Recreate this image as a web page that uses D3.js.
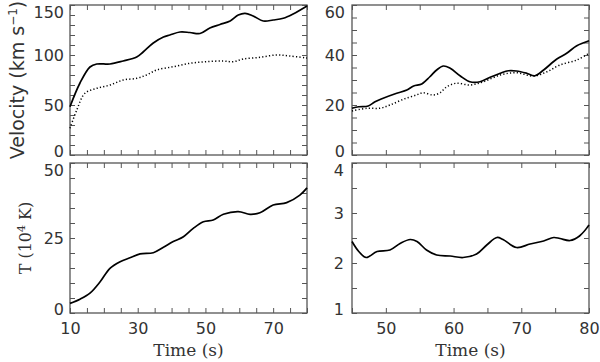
<!DOCTYPE html>
<html>
<head>
<meta charset="utf-8">
<script src="https://cdn.jsdelivr.net/npm/d3@7"></script>
<style>
  body { margin: 0; background: #fff; }
  svg { display: block; }
  .tick text { font-family: "DejaVu Sans", sans-serif; font-size: 16px; fill: #333; }
  .domain { display: none; }
  .tick line { stroke: #555; stroke-width: 1; }
  .frame { fill: none; stroke: #555; stroke-width: 1.3; }
  .curve { fill: none; stroke: #000; stroke-width: 1.7; }
  .dots { fill: none; stroke: #000; stroke-width: 1.5; stroke-dasharray: 1.2 2.2; }
  .title-sans { font-family: "DejaVu Sans", sans-serif; font-size: 19px; fill: #333; }
  .title-serif { font-family: "DejaVu Serif", serif; font-size: 16px; fill: #333; }
</style>
</head>
<body>
<div id="chart"></div>
<script>
// velocity, early phase (10-80 s)
var tVelA = [10, 12.95, 15.9, 17.9, 21.8, 25.7, 29.7, 31.6, 34.6, 37.6, 39.5, 42.5, 45.4, 48.4, 51.3, 54.3, 57.3, 59.7, 61.7, 64.1, 67.1, 70, 73, 75.9, 80]
var velA = [48.3, 72, 88, 91, 91, 94, 98, 103, 112, 118, 120, 123, 122.5, 121.5, 127, 130.5, 134, 140, 141.7, 139, 134, 135, 136.7, 141, 149]
var tVelAdot = [10, 12, 14.4, 17.9, 21.8, 25.7, 29.7, 32.6, 35.6, 40.5, 45.4, 50.3, 55.2, 58.2, 61.2, 66.1, 71, 74.9, 80]
var velAdot = [26.7, 45, 61.7, 66.7, 70, 75, 76.7, 80, 85, 88.3, 91.7, 93.3, 94, 93.3, 96, 97.7, 100, 99, 97]

// velocity, late phase (45-80 s)
var tVelB = [45, 46, 47.4, 48.4, 49.6, 51.6, 53.1, 54.1, 55.3, 56.5, 57.5, 58.5, 59.5, 61, 62.4, 63.9, 65.4, 66.9, 68.1, 69.3, 70.8, 72, 73.3, 75.2, 76.7, 78.2, 80]
var velB = [18.7, 19.3, 19.6, 21.3, 22.7, 24.7, 26, 27.6, 28.4, 31.3, 34, 35.6, 34.7, 31.6, 29.3, 29.3, 31.1, 32.7, 33.7, 33.6, 32.7, 31.7, 34, 38.3, 40.7, 43.7, 45.7]
var tVelBdot = [45, 47.2, 49.1, 50.6, 52.6, 54.5, 55.5, 57, 58, 59, 60.4, 62.4, 64.4, 66.9, 69.3, 71.8, 73.8, 75.7, 78.2, 80]
var velBdot = [17.6, 18.7, 18.7, 20, 22.3, 24, 24.9, 24, 24.9, 27.3, 28.7, 28, 29.3, 32, 32.9, 31.6, 33.3, 36, 38, 40.7]

// temperature (1e4 K)
var tTempA = [10, 12.95, 15.9, 18.9, 21.8, 24.8, 27.7, 30.7, 34.6, 37.6, 40.5, 43.5, 46.4, 49.4, 52.3, 55.3, 59.7, 63.2, 66.1, 70, 74, 77.9, 80]
var tempA = [3.2, 4.6, 6.6, 10.4, 14.9, 17.1, 18.4, 19.7, 20.1, 21.9, 23.8, 25.4, 28.2, 30.4, 31, 32.9, 33.8, 32.9, 33.4, 36, 36.8, 39.3, 41.7]
var tTempB = [45, 46, 47.1, 48.7, 50.6, 52.1, 53.6, 54.6, 56, 57.5, 59.5, 61.4, 63.4, 64.9, 66.4, 67.3, 69.3, 71.3, 73.3, 74.8, 75.7, 77.2, 78.6, 80]
var tempB = [2.43, 2.23, 2.11, 2.23, 2.26, 2.39, 2.47, 2.43, 2.26, 2.16, 2.14, 2.11, 2.18, 2.36, 2.51, 2.47, 2.31, 2.38, 2.44, 2.51, 2.49, 2.45, 2.54, 2.76]

var xTicksA = [10, 30, 50, 70]
var xTicksB = [50, 60, 70, 80]
var yTicksVelA = [0, 50, 100, 150]
var yTicksVelB = [0, 20, 40, 60]
var yTicksTempA = [0, 25, 50]
var yTicksTempB = [1, 2, 3, 4]

var width = 600
var height = 362

var svg = d3.select('#chart')
  .append('svg')
  .attr('width', width)
  .attr('height', height)

var colA = [70, 307]
var colB = [352, 589]
var rowTop = [5, 155]
var rowBot = [163, 313]

function pairs(xs, ys) {
  return xs.map(function(x, i) { return [x, ys[i]] })
}

function range(a, b, step) {
  var out = []
  for (var v = a; v <= b + 1e-9; v += step) out.push(+v.toFixed(6))
  return out
}

function panel(opt) {
  var x = d3.scaleLinear().domain(opt.xDomain).range(opt.col)
  var y = d3.scaleLinear().domain(opt.yDomain).range([opt.row[1], opt.row[0]])
  var g = svg.append('g')
  var w = opt.col[1] - opt.col[0]
  var h = opt.row[1] - opt.row[0]

  var xMinor = range(opt.xDomain[0], opt.xDomain[1], opt.xStep)
  var yMinor = range(opt.yDomain[0], opt.yDomain[1], opt.yStep)

  // ticks point inward on all four sides
  g.append('g')
    .attr('transform', 'translate(0,' + opt.row[1] + ')')
    .call(d3.axisBottom(x).tickValues(xMinor).tickSize(-5).tickFormat(''))
  g.append('g')
    .attr('transform', 'translate(0,' + opt.row[0] + ')')
    .call(d3.axisTop(x).tickValues(xMinor).tickSize(-5).tickFormat(''))
  g.append('g')
    .attr('transform', 'translate(' + opt.col[0] + ',0)')
    .call(d3.axisLeft(y).tickValues(yMinor).tickSize(-5).tickFormat(''))
  g.append('g')
    .attr('transform', 'translate(' + opt.col[1] + ',0)')
    .call(d3.axisRight(y).tickValues(yMinor).tickSize(-5).tickFormat(''))

  // labels; the end labels are pulled inside the frame
  var lo = opt.yDomain[0]
  var hi = opt.yDomain[1]
  g.append('g')
    .attr('transform', 'translate(' + opt.col[0] + ',0)')
    .call(d3.axisLeft(y).tickValues(opt.yLabels).tickSize(0).tickPadding(opt.yPad).tickFormat(d3.format('d')))
    .selectAll('text')
    .attr('dy', '0.36em')
    .attr('y', function(d) { return d === hi ? 7 : d === lo ? -4 : 0 })
  if (opt.xLabels) {
    g.append('g')
      .attr('transform', 'translate(0,' + opt.row[1] + ')')
      .call(d3.axisBottom(x).tickValues(opt.xLabels).tickSize(0).tickPadding(10).tickFormat(d3.format('d')))
  }

  g.append('rect')
    .attr('class', 'frame')
    .attr('x', opt.col[0])
    .attr('y', opt.row[0])
    .attr('width', w)
    .attr('height', h)

  var line = d3.line()
    .x(function(d) { return x(d[0]) })
    .y(function(d) { return y(d[1]) })
    .curve(d3.curveCatmullRom.alpha(0.5))

  opt.series.forEach(function(s) {
    g.append('path')
      .datum(pairs(s.t, s.v))
      .attr('class', s.dotted ? 'dots' : 'curve')
      .attr('d', line)
  })
}

panel({
  xDomain: [10, 80], yDomain: [0, 150], col: colA, row: rowTop,
  xStep: 5, yStep: 10, yLabels: yTicksVelA, yPad: 6,
  series: [{t: tVelA, v: velA}, {t: tVelAdot, v: velAdot, dotted: true}]
})
panel({
  xDomain: [45, 80], yDomain: [0, 60], col: colB, row: rowTop,
  xStep: 5, yStep: 5, yLabels: yTicksVelB, yPad: 7,
  series: [{t: tVelB, v: velB}, {t: tVelBdot, v: velBdot, dotted: true}]
})
panel({
  xDomain: [10, 80], yDomain: [0, 50], col: colA, row: rowBot,
  xStep: 5, yStep: 5, yLabels: yTicksTempA, yPad: 6, xLabels: xTicksA,
  series: [{t: tTempA, v: tempA}]
})
panel({
  xDomain: [45, 80], yDomain: [1, 4], col: colB, row: rowBot,
  xStep: 5, yStep: 0.5, yLabels: yTicksTempB, yPad: 8, xLabels: xTicksB,
  series: [{t: tTempB, v: tempB}]
})

// axis titles
var vLabel = svg.append('text')
  .attr('class', 'title-sans')
  .attr('transform', 'translate(24,80) rotate(-90)')
  .attr('text-anchor', 'middle')
vLabel.append('tspan').text('Velocity (km s')
vLabel.append('tspan').attr('dy', -7).attr('font-size', 12).text('\u22121')
vLabel.append('tspan').attr('dy', 7).text(')')

var tLabel = svg.append('text')
  .attr('class', 'title-serif')
  .attr('transform', 'translate(31,238) rotate(-90)')
  .attr('text-anchor', 'middle')
tLabel.append('tspan').text('T (10')
tLabel.append('tspan').attr('dy', -6).attr('font-size', 11).text('4')
tLabel.append('tspan').attr('dy', 6).text(' K)')

svg.append('text')
  .attr('class', 'title-serif')
  .attr('x', (colA[0] + colA[1]) / 2)
  .attr('y', 356)
  .attr('text-anchor', 'middle')
  .style('font-size', '17px')
  .text('Time (s)')

svg.append('text')
  .attr('class', 'title-serif')
  .attr('x', (colB[0] + colB[1]) / 2)
  .attr('y', 356)
  .attr('text-anchor', 'middle')
  .style('font-size', '17px')
  .text('Time (s)')
</script>
</body>
</html>
